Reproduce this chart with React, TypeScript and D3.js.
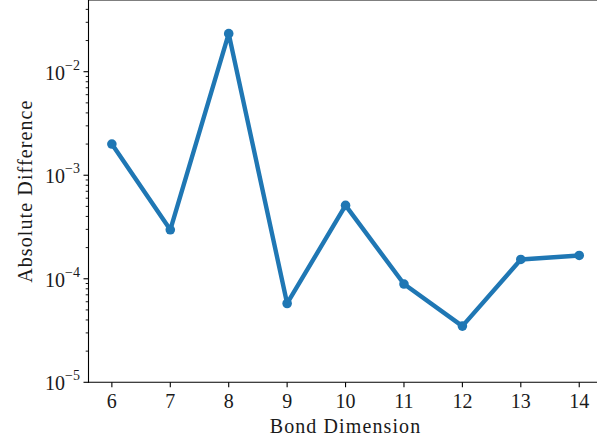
import React from "react";
import * as d3 from "d3";

// Bond dimension sweep and the absolute difference at each step
const bondDims = [6, 7, 8, 9, 10, 11, 12, 13, 14];
const absDiff = [2.0e-3, 2.97e-4, 2.33e-2, 5.77e-5, 5.11e-4, 8.89e-5, 3.49e-5, 1.536e-4, 1.68e-4];
const yMajorExps = [-5, -4, -3, -2];

const W = 597;
const H = 444;
const FONT = "'Liberation Serif', 'Times New Roman', serif";
const BLUE = "#1f77b4";

export default function App() {
  const left = 88.5;
  const bottom = 382.3;
  const top = 0;

  const x = d3.scaleLinear().domain([5.6, 14.4]).range([left, 602.6]);
  const y = d3.scaleLog().domain([1e-5, Math.pow(10, -1.3074)]).range([bottom, top]);

  const [y0, y1] = y.domain();
  const minor: number[] = [];
  for (let e = -5; e <= -2; e++) {
    for (let m = 2; m <= 9; m++) {
      const v = m * Math.pow(10, e);
      if (v >= y0 && v <= y1) minor.push(v);
    }
  }

  const line = d3
    .line<number>()
    .x((_, i) => x(bondDims[i]))
    .y((d) => y(d));

  return (
    <svg
      width={W}
      height={H}
      style={{ position: "fixed", left: 0, top: 0, display: "block", background: "#fff" }}
    >
      <rect width={W} height={H} fill="#fff" />

      {/* y minor ticks */}
      {minor.map((v) => (
        <line key={"mn" + v} x1={left - 2.8} x2={left} y1={y(v)} y2={y(v)} stroke="#000" strokeWidth={0.9} />
      ))}
      {/* y major ticks + labels */}
      {yMajorExps.map((e) => {
        const v = Math.pow(10, e);
        const yy = y(v);
        return (
          <g key={"mj" + e}>
            <line x1={left - 5} x2={left} y1={yy} y2={yy} stroke="#000" strokeWidth={1.1} />
            <text x={left - 8.5} y={yy + 8} textAnchor="end" fontFamily={FONT} fontSize={20} fill="#1a1a1a">
              <tspan>10</tspan>
              <tspan fontSize={14} dy={-10}>{"\u2212" + Math.abs(e)}</tspan>
            </text>
          </g>
        );
      })}

      {/* x ticks + labels */}
      {bondDims.map((b) => (
        <g key={"x" + b}>
          <line x1={x(b)} x2={x(b)} y1={bottom} y2={bottom + 5} stroke="#000" strokeWidth={1.1} />
          <text x={x(b)} y={407.7} textAnchor="middle" fontFamily={FONT} fontSize={20} fill="#1a1a1a">
            {b}
          </text>
        </g>
      ))}

      {/* spines */}
      <line x1={left} x2={left} y1={top} y2={bottom + 0.5} stroke="#000" strokeWidth={1.1} />
      <line x1={left - 0.5} x2={W} y1={bottom} y2={bottom} stroke="#000" strokeWidth={1.1} />
      <line x1={left} x2={W} y1={0} y2={0} stroke="#000" strokeWidth={1.1} />

      {/* data line */}
      <path d={line(absDiff) ?? ""} fill="none" stroke={BLUE} strokeWidth={4.4} strokeLinejoin="round" />
      {absDiff.map((v, i) => (
        <circle key={"pt" + i} cx={x(bondDims[i])} cy={y(v)} r={4.8} fill={BLUE} />
      ))}

      {/* axis titles */}
      <text
        x={345.5}
        y={432.7}
        textAnchor="middle"
        fontFamily={FONT}
        fontSize={20}
        letterSpacing={1.1}
        fill="#1a1a1a"
      >
        Bond Dimension
      </text>
      <text
        transform={`translate(31.5, ${(top + bottom) / 2}) rotate(-90)`}
        textAnchor="middle"
        fontFamily={FONT}
        fontSize={20}
        letterSpacing={1.1}
        fill="#1a1a1a"
      >
        Absolute Difference
      </text>
    </svg>
  );
}
